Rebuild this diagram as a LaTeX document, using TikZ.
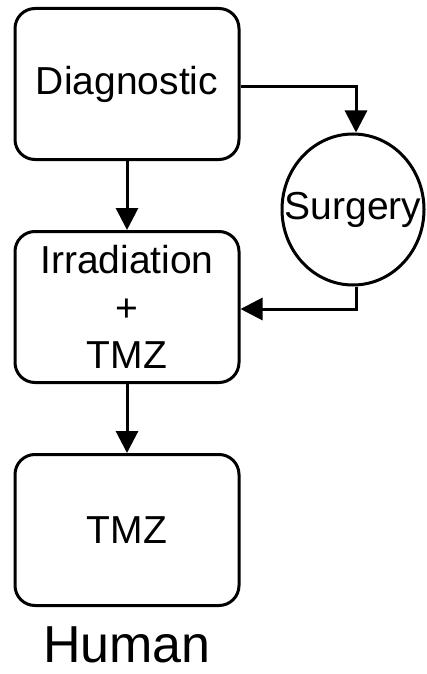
\documentclass[tikz,border=0pt]{standalone}
\usepackage{fontspec}
\setmainfont{Liberation Sans}
\usetikzlibrary{positioning,shapes.geometric,arrows.meta}
\begin{document}
\begin{tikzpicture}[x=1pt,y=1pt,node distance=223pt,auto,line width=3pt]
	\tikzstyle{rect1} = [rectangle,rounded corners=20pt,minimum width=224pt,minimum height=151pt,
	inner sep=2pt,text centered,align=center,draw=black,font=\fontsize{39}{47.5}\selectfont]
	\tikzstyle{circ1} = [ellipse,minimum width=142pt,minimum height=151pt,inner sep=0pt,
	draw=black,font=\fontsize{39}{47.5}\selectfont]
	\tikzstyle{arr1} = [-{Triangle[length=22pt,width=22pt]}]
	\useasboundingbox (0,0) rectangle (426,-674);
	\node (node1) [rect1] at (127,-84) {Diagnostic};
	\node (node2) [rect1, below of=node1] {Irradiation\\+\\TMZ};
	\node (node3) [rect1, below of=node2] {TMZ};
	\node (node4) [circ1] at (353,-209.5) {\makebox[0pt]{Surgery}};
	\node (node5) [inner sep=0pt,text depth=0pt,font=\fontsize{52}{60}\selectfont] at (127,-645) {Human};
	\coordinate (c1) at ([yshift=-3pt]node1.east);
	\draw[arr1] (node1) -- (node2);
	\draw[arr1] (node2) -- (node3);
	\draw[arr1] (c1) -| ([xshift=3pt]node4.north);
	\draw[arr1] ([xshift=3pt]node4.south) |- ([yshift=-2pt]node2.east);
	\end{tikzpicture}
\end{document}
